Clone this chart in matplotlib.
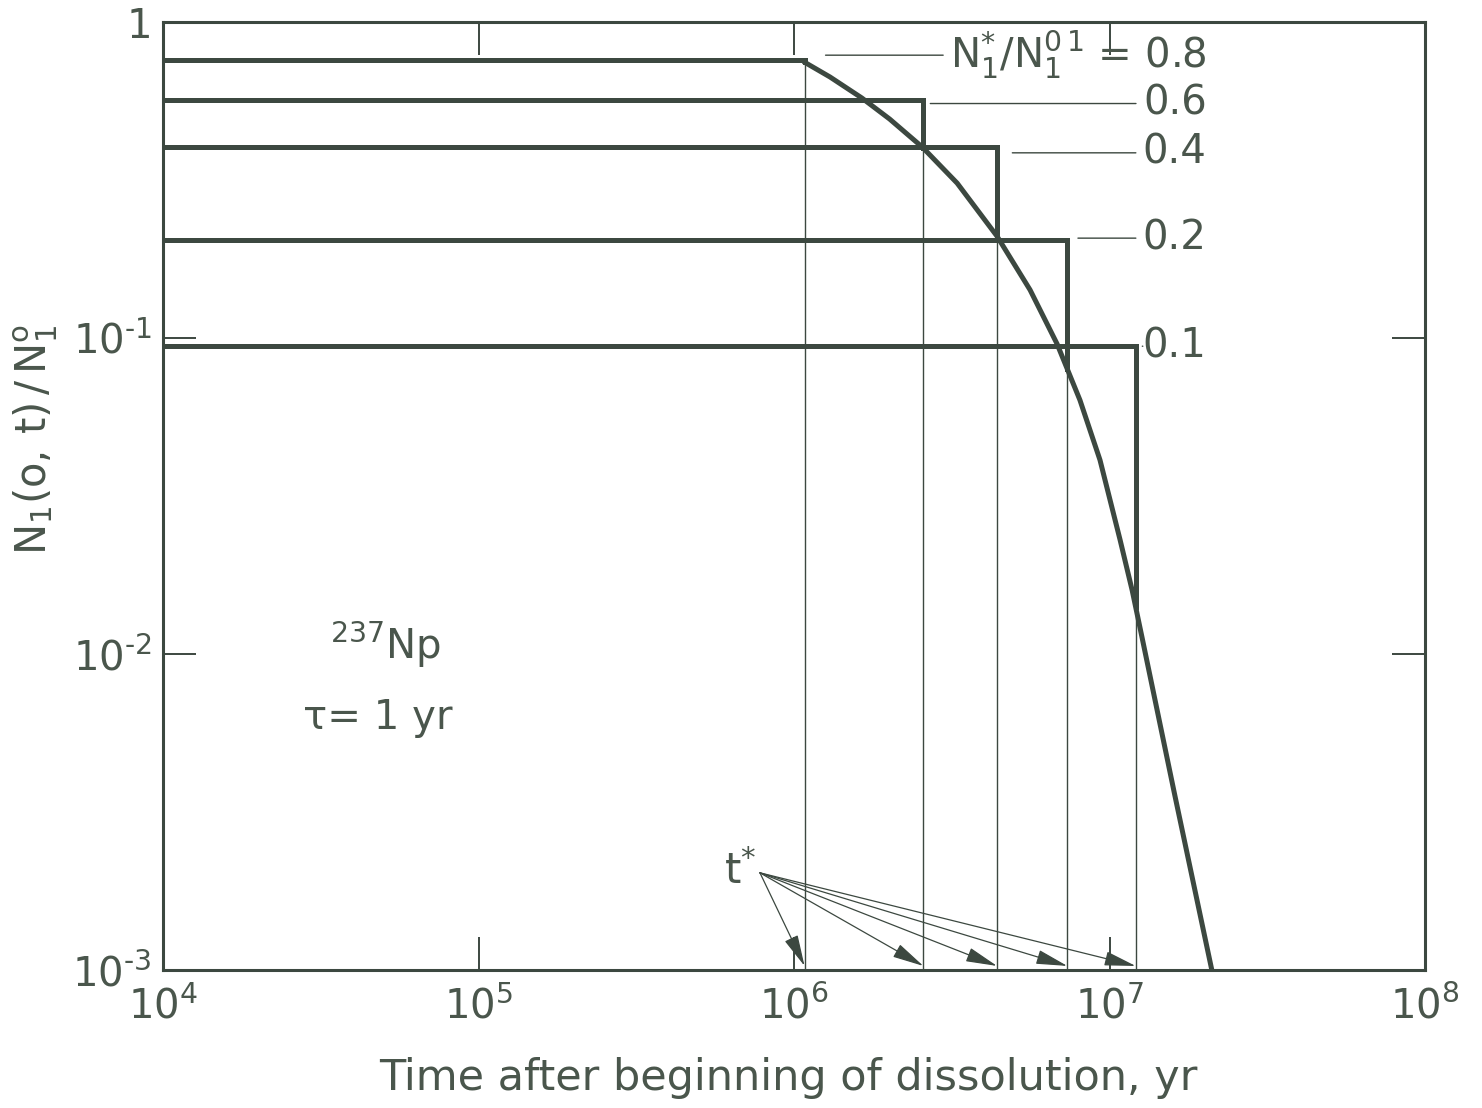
import matplotlib.pyplot as plt
import numpy as np

# values (237Np, tau = 1 yr)
curve_t = [1.07e6, 1.30e6, 1.64e6, 2.01e6, 2.55e6, 3.29e6, 4.40e6, 5.60e6,
           6.82e6, 8.06e6, 9.33e6, 1.08e7, 1.18e7, 1.27e7, 1.61e7, 2.11e7]
curve_n = [0.750, 0.670, 0.575, 0.493, 0.402, 0.309, 0.210, 0.142,
           0.0958, 0.0636, 0.0411, 0.0230, 0.0159, 0.0112, 0.00358, 0.001]

level_labels = ["0.8", "0.6", "0.4", "0.2", "0.1"]
level_values = [0.758, 0.566, 0.402, 0.204, 0.0943]
t_star = [1.08e6, 2.57e6, 4.40e6, 7.35e6, 1.21e7]

xtick_values = [1e4, 1e5, 1e6, 1e7, 1e8]
xtick_labels = [r"$\mathregular{10^{4}}$", r"$\mathregular{10^{5}}$",
                r"$\mathregular{10^{6}}$", r"$\mathregular{10^{7}}$",
                r"$\mathregular{10^{8}}$"]
ytick_values = [1e-3, 1e-2, 1e-1, 1]
ytick_labels = ["$\\mathregular{10^{\u20103}}$", "$\\mathregular{10^{\u20102}}$",
                "$\\mathregular{10^{\u20101}}$", "1"]

ink = "#3c4840"
text_ink = "#4a564c"

plt.rcParams["font.family"] = ["DejaVu Sans"]
plt.rcParams["font.size"] = 28

fig = plt.figure(figsize=(14.82, 11.08), dpi=100)
ax = fig.add_axes([163 / 1482, 1 - 970 / 1108, 1262 / 1482, 948 / 1108])
ax.set_xscale("log")
ax.set_yscale("log")
ax.set_xlim(1e4, 1e8)
ax.set_ylim(1e-3, 1)

# decay curve after the solid is gone
ax.plot(curve_t, curve_n, color=ink, lw=3.6, solid_capstyle="butt",
        solid_joinstyle="round")

log_t = np.log10(curve_t)
log_n = np.log10(curve_n)
for lv, ts in zip(level_values, t_star):
    n_at = 10 ** np.interp(np.log10(ts), log_t, log_n)
    ax.plot([1e4, ts, ts], [lv, lv, n_at], color=ink, lw=3.6,
            solid_joinstyle="miter")
    ax.plot([ts, ts], [n_at, 1e-3], color=ink, lw=1.0)
    # arrows from the t* label
    ax.annotate("", xy=(ts, 1.03e-3), xytext=(7.8e5, 2.03e-3),
                arrowprops=dict(arrowstyle="-|>,head_length=0.7,head_width=0.16",
                                color=ink, lw=0.9, shrinkA=0, shrinkB=0))

ax.text(7.6e5, 2.05e-3, r"$\mathregular{t^{*}}$", ha="right", va="center",
        color=text_ink, fontsize=30)

# level labels with leader lines
label_x = 0.827
leader_x = [0.525, 0.608, 0.673, 0.725, 0.776]
label_y = [0.965, 0.914, 0.862, 0.772, 0.658]
for i, (lab, lx, ly) in enumerate(zip(level_labels, leader_x, label_y)):
    txt = lab
    if i == 0:
        txt = r"$\mathregular{N_1^{*}/N_1^{0\,1}}$ = " + lab
    ax.annotate(txt, xy=(lx, ly), xycoords="axes fraction",
                xytext=(label_x, ly), textcoords="axes fraction",
                ha="right", va="center", color=text_ink, fontsize=29,
                arrowprops=dict(arrowstyle="-", color=ink, lw=1.0,
                                relpos=(0, 0.5), shrinkA=3, shrinkB=0))

ax.text(0.132, 0.343, r"$\mathregular{^{237}Np}$", transform=ax.transAxes,
        color=text_ink, fontsize=29, va="center")
ax.text(0.111, 0.266, "τ= 1 yr", transform=ax.transAxes,
        color=text_ink, fontsize=29, va="center")

ax.set_xticks(xtick_values)
ax.set_xticklabels(xtick_labels)
ax.set_yticks(ytick_values)
ax.set_yticklabels(ytick_labels)
ax.minorticks_off()
ax.tick_params(axis="both", which="major", direction="in", length=24,
               width=1.4, color=ink, labelcolor=text_ink, labelsize=29,
               top=True, right=True)
ax.tick_params(axis="x", pad=12)
ax.tick_params(axis="y", pad=8)
for sp in ax.spines.values():
    sp.set_color(ink)
    sp.set_linewidth(2.2)

fig.text(0.532, 0.027, "Time after beginning of dissolution, yr",
         ha="center", va="center", color=text_ink, fontsize=31)
fig.text(0.024, 0.603, r"$\mathregular{N_1(o,\,t)\,/\,N_1^{o}}$", rotation=90,
         ha="center", va="center", color=text_ink, fontsize=30)

fig.savefig("out.png", dpi=100, facecolor="white")
